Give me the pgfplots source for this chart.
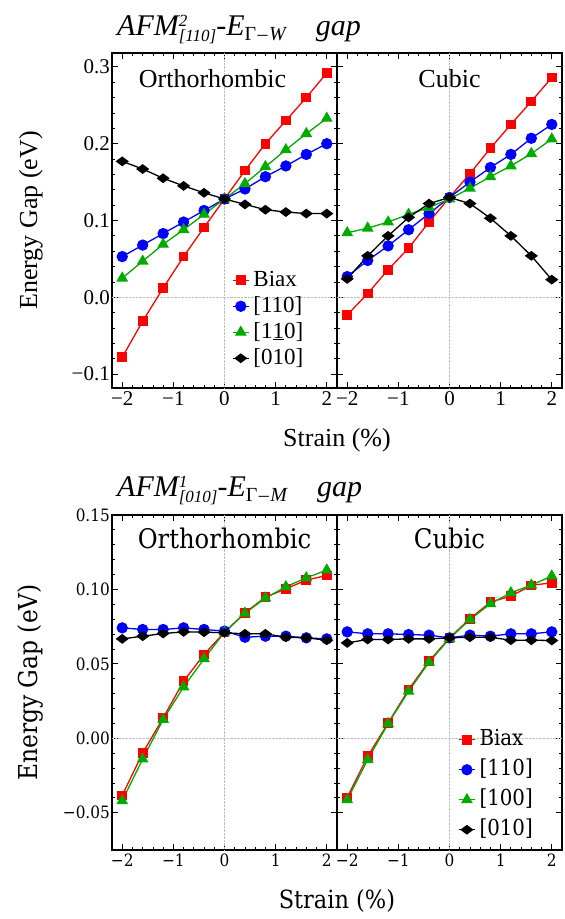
\documentclass[border=0pt]{standalone}
\usepackage{fontspec}
\setmainfont{Liberation Serif}
\newfontfamily\botfont{DejaVu Serif Condensed}
\usepackage{pgfplots}
\pgfplotsset{compat=1.18}
\usepackage{pgfplotstable}

\definecolor{mred}{rgb}{1,0,0}
\definecolor{mblue}{rgb}{0,0,1}
\definecolor{mgreen}{rgb}{0,0.67,0}

% columns: strain, Biax, [110], [1-10]/[100], [010]
\pgfplotstableread{
x    r       b       g       k
-2.0 -0.078  0.053   0.025   0.177
-1.6 -0.031  0.068   0.047   0.167
-1.2  0.012  0.083   0.069   0.155
-0.8  0.053  0.098   0.088   0.145
-0.4  0.091  0.113   0.108   0.136
 0.0  0.128  0.128   0.128   0.128
 0.4  0.165  0.141   0.148   0.121
 0.8  0.200  0.157   0.170   0.114
 1.2  0.230  0.171   0.192   0.111
 1.6  0.260  0.186   0.213   0.109
 2.0  0.292  0.200   0.233   0.109
}\topleft
\pgfplotstableread{
x    r       b       g       k
-2.0 -0.023  0.027   0.084   0.024
-1.6  0.005  0.048   0.090   0.054
-1.2  0.036  0.067   0.098   0.080
-0.8  0.064  0.088   0.108   0.104
-0.4  0.098  0.109   0.117   0.122
 0.0  0.130  0.130   0.128   0.130
 0.4  0.161  0.150   0.142   0.122
 0.8  0.194  0.169   0.157   0.103
 1.2  0.225  0.186   0.171   0.080
 1.6  0.255  0.207   0.187   0.054
 2.0  0.286  0.225   0.206   0.023
}\topright
\pgfplotstableread{
x    r        b       g        k
-2.0 -0.0383  0.0742  -0.0419  0.0668
-1.6 -0.0099  0.0731  -0.0139  0.0686
-1.2  0.0137  0.0731   0.0126  0.0704
-0.8  0.0383  0.0742   0.0345  0.0715
-0.4  0.0563  0.0731   0.0534  0.0713
 0.0  0.0713  0.0720   0.0713  0.0709
 0.4  0.0843  0.0679   0.0840  0.0702
 0.8  0.0948  0.0686   0.0942  0.0702
 1.2  0.1004  0.0686   0.1018  0.0679
 1.6  0.1063  0.0675   0.1078  0.0675
 2.0  0.1094  0.0668   0.1130  0.0659
}\botleft
\pgfplotstableread{
x    r        b       g        k
-2.0 -0.0397  0.0715  -0.0413  0.0641
-1.6 -0.0121  0.0702  -0.0143  0.0664
-1.2  0.0103  0.0702   0.0099  0.0664
-0.8  0.0327  0.0697   0.0316  0.0668
-0.4  0.0518  0.0693   0.0511  0.0668
 0.0  0.0675  0.0675   0.0670  0.0675
 0.4  0.0803  0.0693   0.0798  0.0679
 0.8  0.0915  0.0686   0.0904  0.0679
 1.2  0.0955  0.0702   0.0978  0.0659
 1.6  0.1027  0.0702   0.1029  0.0659
 2.0  0.1045  0.0715   0.1090  0.0657
}\botright

\newcommand\subsz{\fontsize{17}{17}\selectfont}
\newcommand\ttl[3]{\fontsize{30}{30}\selectfont\itshape AFM\rlap{\raisebox{9pt}{\subsz #1}}\raisebox{-6pt}{\subsz [#2]}-E\raisebox{-5pt}{\fontsize{20}{20}\selectfont\upshape Γ\kern1.5pt–\kern1.5pt\itshape #3}\hspace{30pt}gap}

\pgfplotsset{
  panel/.style={
    scale only axis, width=225pt, height=335pt,
    xmin=-2.2, xmax=2.2,
    xtick={-2,-1,0,1,2},
    xticklabels={−2,−1,0,1,2},
    minor x tick num=4, minor y tick num=4,
    tick align=inside, tick pos=both,
    major tick length=6pt, minor tick length=3pt,
    every tick/.append style={black, line width=0.8pt},
    axis line style={line width=1.3pt},
    extra x ticks={0}, extra y ticks={0},
    extra x tick labels={}, extra y tick labels={},
    extra tick style={grid=major, major tick length=0pt},
    grid style={densely dotted, black!25, line width=0.6pt},
    legend cell align=left,
    legend image code/.code={\draw[mark repeat=2, mark phase=2, #1] plot coordinates {(0pt,0pt) (8pt,0pt) (16pt,0pt)};},
  },
  sr/.style={mred, line width=1.3pt, mark=square*, mark size=4.2pt},
  sb/.style={mblue, line width=1.3pt, mark=*, mark size=5pt},
  sg/.style={mgreen, line width=1.3pt, mark=triangle*, mark size=5.5pt},
  sk/.style={black, line width=1.3pt, mark=diamond*, mark size=5.5pt, mark options={rotate=90}},
  toppanel/.style={panel,
    ymin=-0.118, ymax=0.318, ytick={-0.1,0,0.1,0.2,0.3},
    tick label style={font=\fontsize{21}{21}\selectfont},
    yticklabel style={inner sep=2pt},
  },
  botpanel/.style={panel,
    ymin=-0.075, ymax=0.15, ytick={-0.05,0,0.05,0.10,0.15},
    tick label style={font=\botfont\fontsize{17}{17}\selectfont},
    yticklabel style={inner sep=2pt},
  },
}

\begin{document}
\begin{tikzpicture}
\useasboundingbox (0,0) rectangle (565pt,919pt);

\node[anchor=base west, inner sep=0pt] at (117pt,883pt) {\ttl{2}{110}{W}};
\node[anchor=base west, inner sep=0pt] at (117pt,422pt) {\ttl{1}{010}{M}};

% top left
\begin{axis}[toppanel, at={(112pt,531pt)}, anchor=south west,
  yticklabels={−0.1,0.0,0.1,0.2,0.3},
  ylabel={Energy Gap (eV)},
  ylabel style={at={(rel axis cs:-0.36,0.5)}, anchor=center, font=\fontsize{26}{26}\selectfont},
  xlabel={Strain (\%)},
  xlabel style={at={(rel axis cs:1,-0.155)}, anchor=center, font=\fontsize{26}{26}\selectfont},
  legend style={at={(0.533,0.358)}, anchor=north west, draw=none, fill=none, inner sep=0pt,
    font=\fontsize{23}{23}\selectfont, row sep=2pt, column sep=3pt,
    nodes={inner sep=1pt, text height=17pt, text depth=5pt}},
]
\addplot[sr] table[x=x, y=r] {\topleft};
\addplot[sb] table[x=x, y=b] {\topleft};
\addplot[sg] table[x=x, y=g] {\topleft};
\addplot[sk] table[x=x, y=k] {\topleft};
\legend{Biax, \relax[110], \relax[1\underline{1}0], \relax[010]}
\node[font=\fontsize{26}{26}\selectfont] at (rel axis cs:0.447,0.925) {Orthorhombic};
\end{axis}

% top right
\begin{axis}[toppanel, at={(337pt,531pt)}, anchor=south west,
  yticklabels={,,,,},
]
\addplot[sr] table[x=x, y=r] {\topright};
\addplot[sb] table[x=x, y=b] {\topright};
\addplot[sg] table[x=x, y=g] {\topright};
\addplot[sk] table[x=x, y=k] {\topright};
\node[font=\fontsize{26}{26}\selectfont] at (rel axis cs:0.5,0.925) {Cubic};
\end{axis}

% bottom left
\begin{axis}[botpanel, at={(112pt,69pt)}, anchor=south west,
  yticklabels={−0.05,0.00,0.05,0.10,0.15},
  ylabel={Energy Gap (eV)},
  ylabel style={at={(rel axis cs:-0.36,0.5)}, anchor=center, font=\botfont\fontsize{26}{26}\selectfont},
  xlabel={Strain (\%)},
  xlabel style={at={(rel axis cs:1,-0.152)}, anchor=center, font=\botfont\fontsize{25}{25}\selectfont},
]
\addplot[sr] table[x=x, y=r] {\botleft};
\addplot[sb] table[x=x, y=b] {\botleft};
\addplot[sg] table[x=x, y=g] {\botleft};
\addplot[sk] table[x=x, y=k] {\botleft};
\node[font=\botfont\fontsize{27}{27}\selectfont] at (rel axis cs:0.5,0.931) {Orthorhombic};
\end{axis}

% bottom right
\begin{axis}[botpanel, at={(337pt,69pt)}, anchor=south west,
  yticklabels={,,,,},
  legend style={at={(0.538,0.364)}, anchor=north west, draw=none, fill=none, inner sep=0pt,
    font=\botfont\fontsize{22}{22}\selectfont, row sep=7pt, column sep=3pt,
    nodes={inner sep=1pt, text height=16pt, text depth=5pt}},
]
\addplot[sr] table[x=x, y=r] {\botright};
\addplot[sb] table[x=x, y=b] {\botright};
\addplot[sg] table[x=x, y=g] {\botright};
\addplot[sk] table[x=x, y=k] {\botright};
\legend{Biax, \relax[110], \relax[100], \relax[010]}
\node[font=\botfont\fontsize{27}{27}\selectfont] at (rel axis cs:0.5,0.931) {Cubic};
\end{axis}
\end{tikzpicture}
\end{document}
